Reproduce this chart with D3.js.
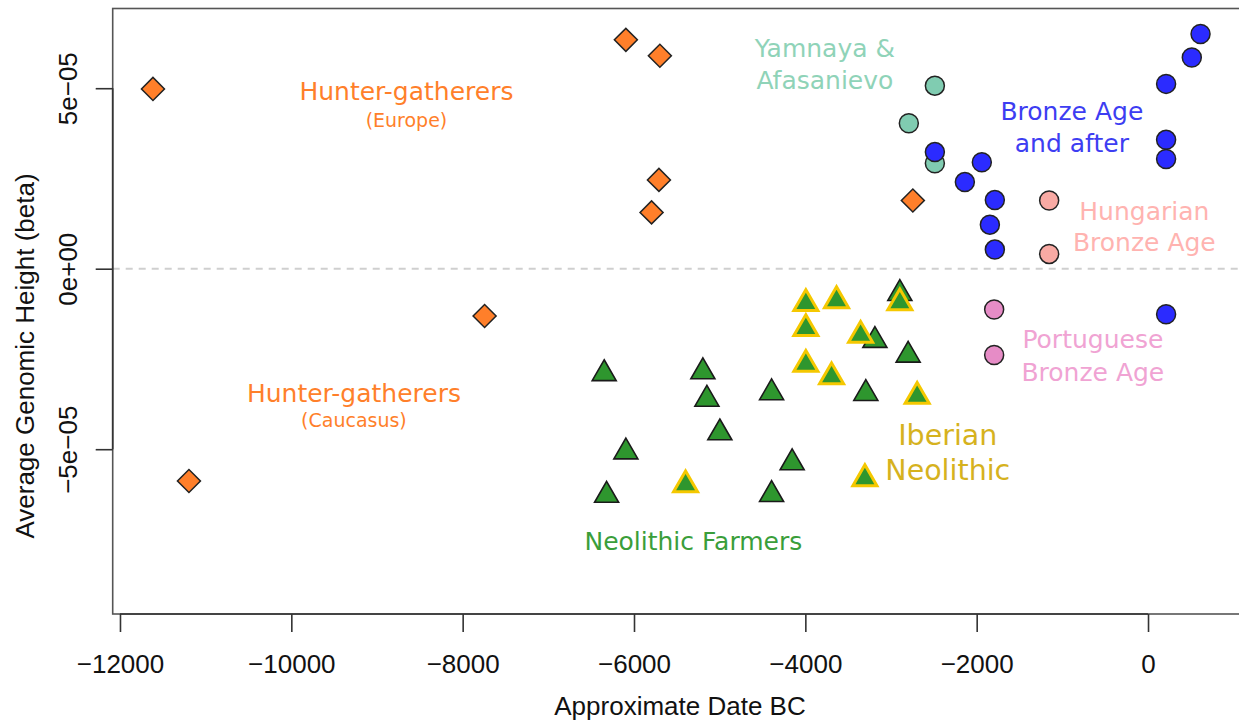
<!DOCTYPE html>
<html>
<head>
<meta charset="utf-8">
<script src="https://cdn.jsdelivr.net/npm/d3@7"></script>
<style>
  body { margin: 0; background: #fff; }
</style>
</head>
<body>
<svg id="chart"></svg>
<script>
// [approximate date BC, average genomic height]
const hunterGatherers = [
  [-11615, 4.98e-5], [-6095, 6.34e-5], [-5698, 5.90e-5], [-5709, 2.46e-5],
  [-5795, 1.56e-5], [-7744, -1.31e-5], [-11195, -5.88e-5], [-2745, 1.89e-5]
];
const neolithicFarmers = [
  [-6348, -2.81e-5], [-5196, -2.76e-5], [-5149, -3.52e-5], [-4998, -4.45e-5],
  [-4394, -3.34e-5], [-6095, -4.98e-5], [-6320, -6.18e-5], [-4394, -6.16e-5],
  [-4154, -5.28e-5], [-2897, -0.59e-5], [-3188, -1.89e-5], [-2800, -2.30e-5],
  [-3294, -3.36e-5]
];
const iberianNeolithic = [
  [-3994, -0.87e-5], [-3636, -0.79e-5], [-2897, -0.85e-5], [-3994, -1.56e-5],
  [-3355, -1.75e-5], [-3994, -2.55e-5], [-3694, -2.90e-5], [-2695, -3.44e-5],
  [-3305, -5.72e-5], [-5398, -5.89e-5]
];
const yamnaya = [
  [-2488, 5.07e-5], [-2792, 4.03e-5], [-2488, 2.92e-5]
];
const bronzeAge = [
  [-2488, 3.23e-5], [-1940, 2.95e-5], [-2138, 2.40e-5], [-1788, 1.90e-5],
  [-1846, 1.22e-5], [-1788, 0.53e-5], [211, 5.12e-5], [211, 3.57e-5],
  [211, 3.04e-5], [511, 5.85e-5], [613, 6.50e-5], [211, -1.26e-5]
];
const hungarianBronze = [[-1154, 1.89e-5], [-1154, 0.41e-5]];
const portugueseBronze = [[-1796, -1.13e-5], [-1796, -2.39e-5]];

const xTicks = [-12000, -10000, -8000, -6000, -4000, -2000, 0];
const yTicks = [-5e-5, 0, 5e-5];
const yTickLabels = ["\u22125e\u221205", "0e+00", "5e\u221205"];

// group labels: [text, date, height, font size, colour]
const groupLabels = [
  ["Hunter-gatherers", -8656, 4.67e-5, 25, "#ff7f2a"],
  ["(Europe)", -8656, 3.92e-5, 19, "#ff7f2a"],
  ["Hunter-gatherers", -9269, -3.69e-5, 25, "#ff7f2a"],
  ["(Caucasus)", -9269, -4.39e-5, 19, "#ff7f2a"],
  ["Yamnaya &", -3772, 5.86e-5, 25, "#8fd3b8"],
  ["Afasanievo", -3772, 4.98e-5, 25, "#8fd3b8"],
  ["Bronze Age", -889, 4.12e-5, 25, "#3d3df2"],
  ["and after", -889, 3.23e-5, 25, "#3d3df2"],
  ["Hungarian", -43, 1.35e-5, 25, "#ffb3b0"],
  ["Bronze Age", -43, 0.49e-5, 25, "#ffb3b0"],
  ["Portuguese", -644, -2.20e-5, 25, "#f0a3d3"],
  ["Bronze Age", -644, -3.11e-5, 25, "#f0a3d3"],
  ["Iberian", -2337, -4.88e-5, 28.5, "#d6b21e"],
  ["Neolithic", -2337, -5.85e-5, 28.5, "#d6b21e"],
  ["Neolithic Farmers", -5307, -7.79e-5, 25, "#3a9e3a"]
];

const width = 1239, height = 721;
const plot = { left: 112.7, right: 1242, top: 8.5, bottom: 614 };

const svg = d3.select("#chart").attr("width", width).attr("height", height);

const x = d3.scaleLinear().domain([-12085, 1097]).range([plot.left, plot.right]);
const y = d3.scaleLinear().domain([-9.565e-5, 7.208e-5]).range([plot.bottom, plot.top]);

const axisFont = "'Liberation Sans', Arial, Helvetica, sans-serif";
const labelFont = "'DejaVu Sans', Verdana, sans-serif";

// zero reference line
svg.append("line")
  .attr("x1", plot.left).attr("x2", plot.right)
  .attr("y1", y(0)).attr("y2", y(0))
  .attr("stroke", "#cfcfcf")
  .attr("stroke-width", 2)
  .attr("stroke-dasharray", "7,6");

// frame
svg.append("rect")
  .attr("x", plot.left).attr("y", plot.top)
  .attr("width", plot.right - plot.left)
  .attr("height", plot.bottom - plot.top)
  .attr("fill", "none")
  .attr("stroke", "#555")
  .attr("stroke-width", 1.6);

// x axis
const xAxis = svg.append("g")
  .attr("transform", `translate(0,${plot.bottom})`)
  .call(d3.axisBottom(x).tickValues(xTicks).tickSize(18).tickSizeOuter(0)
    .tickFormat(d => (d < 0 ? "\u2212" + Math.abs(d) : String(d))));
xAxis.select(".domain").remove();
xAxis.append("line")
  .attr("x1", x(xTicks[0])).attr("x2", x(xTicks[xTicks.length - 1]))
  .attr("stroke", "#333").attr("stroke-width", 1.6);
xAxis.selectAll(".tick line").attr("stroke", "#333").attr("stroke-width", 1.6);
xAxis.selectAll(".tick text")
  .attr("y", 59).attr("dy", 0)
  .attr("fill", "#111")
  .style("font-family", axisFont)
  .style("font-size", "26px");

// y axis
const yAxis = svg.append("g")
  .attr("transform", `translate(${plot.left},0)`)
  .call(d3.axisLeft(y).tickValues(yTicks).tickSize(17).tickSizeOuter(0)
    .tickFormat((d, i) => yTickLabels[i]));
yAxis.select(".domain").remove();
yAxis.append("line")
  .attr("y1", y(yTicks[0])).attr("y2", y(yTicks[yTicks.length - 1]))
  .attr("stroke", "#333").attr("stroke-width", 1.6);
yAxis.selectAll(".tick line").attr("stroke", "#333").attr("stroke-width", 1.6);
yAxis.selectAll(".tick text")
  .attr("x", 0).attr("y", 0).attr("dy", 0)
  .attr("text-anchor", "middle")
  .attr("transform", "translate(-36,0) rotate(-90)")
  .attr("fill", "#111")
  .style("font-family", axisFont)
  .style("font-size", "26px");

// axis titles
svg.append("text")
  .attr("x", 680).attr("y", 715)
  .attr("text-anchor", "middle")
  .attr("fill", "#111")
  .style("font-family", axisFont)
  .style("font-size", "26px")
  .text("Approximate Date BC");

svg.append("text")
  .attr("transform", "translate(34,356) rotate(-90)")
  .attr("text-anchor", "middle")
  .attr("fill", "#111")
  .style("font-family", axisFont)
  .style("font-size", "26px")
  .text("Average Genomic Height (beta)");

const marks = svg.append("g");

// hunter-gatherers: diamonds
marks.selectAll(".hg")
  .data(hunterGatherers)
  .join("path")
  .attr("class", "hg")
  .attr("d", d3.symbol(d3.symbolSquare, 265)())
  .attr("transform", d => `translate(${x(d[0])},${y(d[1])}) rotate(45)`)
  .attr("fill", "#ff7f2a")
  .attr("stroke", "#222")
  .attr("stroke-width", 1.5);

const triangle = d3.symbol(d3.symbolTriangle, 250)();

// neolithic farmers: triangles
marks.selectAll(".nf")
  .data(neolithicFarmers)
  .join("path")
  .attr("class", "nf")
  .attr("d", triangle)
  .attr("transform", d => `translate(${x(d[0])},${y(d[1]) + 3.5})`)
  .attr("fill", "#2e962e")
  .attr("stroke", "#1a1a1a")
  .attr("stroke-width", 1.6);

// iberian neolithic: triangles with yellow edge
marks.selectAll(".ib")
  .data(iberianNeolithic)
  .join("path")
  .attr("class", "ib")
  .attr("d", triangle)
  .attr("transform", d => `translate(${x(d[0])},${y(d[1]) + 3.5})`)
  .attr("fill", "#2e962e")
  .attr("stroke", "#f5c800")
  .attr("stroke-width", 3);

const circleGroups = [
  [yamnaya, "#80ccb1"],
  [bronzeAge, "#2b2bff"],
  [hungarianBronze, "#f9aaa4"],
  [portugueseBronze, "#e68cc6"]
];
circleGroups.forEach(([rows, fill], gi) => {
  marks.selectAll(".c" + gi)
    .data(rows)
    .join("circle")
    .attr("class", "c" + gi)
    .attr("cx", d => x(d[0]))
    .attr("cy", d => y(d[1]))
    .attr("r", 9.5)
    .attr("fill", fill)
    .attr("stroke", "#222")
    .attr("stroke-width", 1.5);
});

// group labels
svg.append("g")
  .selectAll("text")
  .data(groupLabels)
  .join("text")
  .attr("x", d => x(d[1]))
  .attr("y", d => y(d[2]))
  .attr("text-anchor", "middle")
  .attr("fill", d => d[4])
  .style("font-family", labelFont)
  .style("font-size", d => d[3] + "px")
  .text(d => d[0]);
</script>
</body>
</html>
